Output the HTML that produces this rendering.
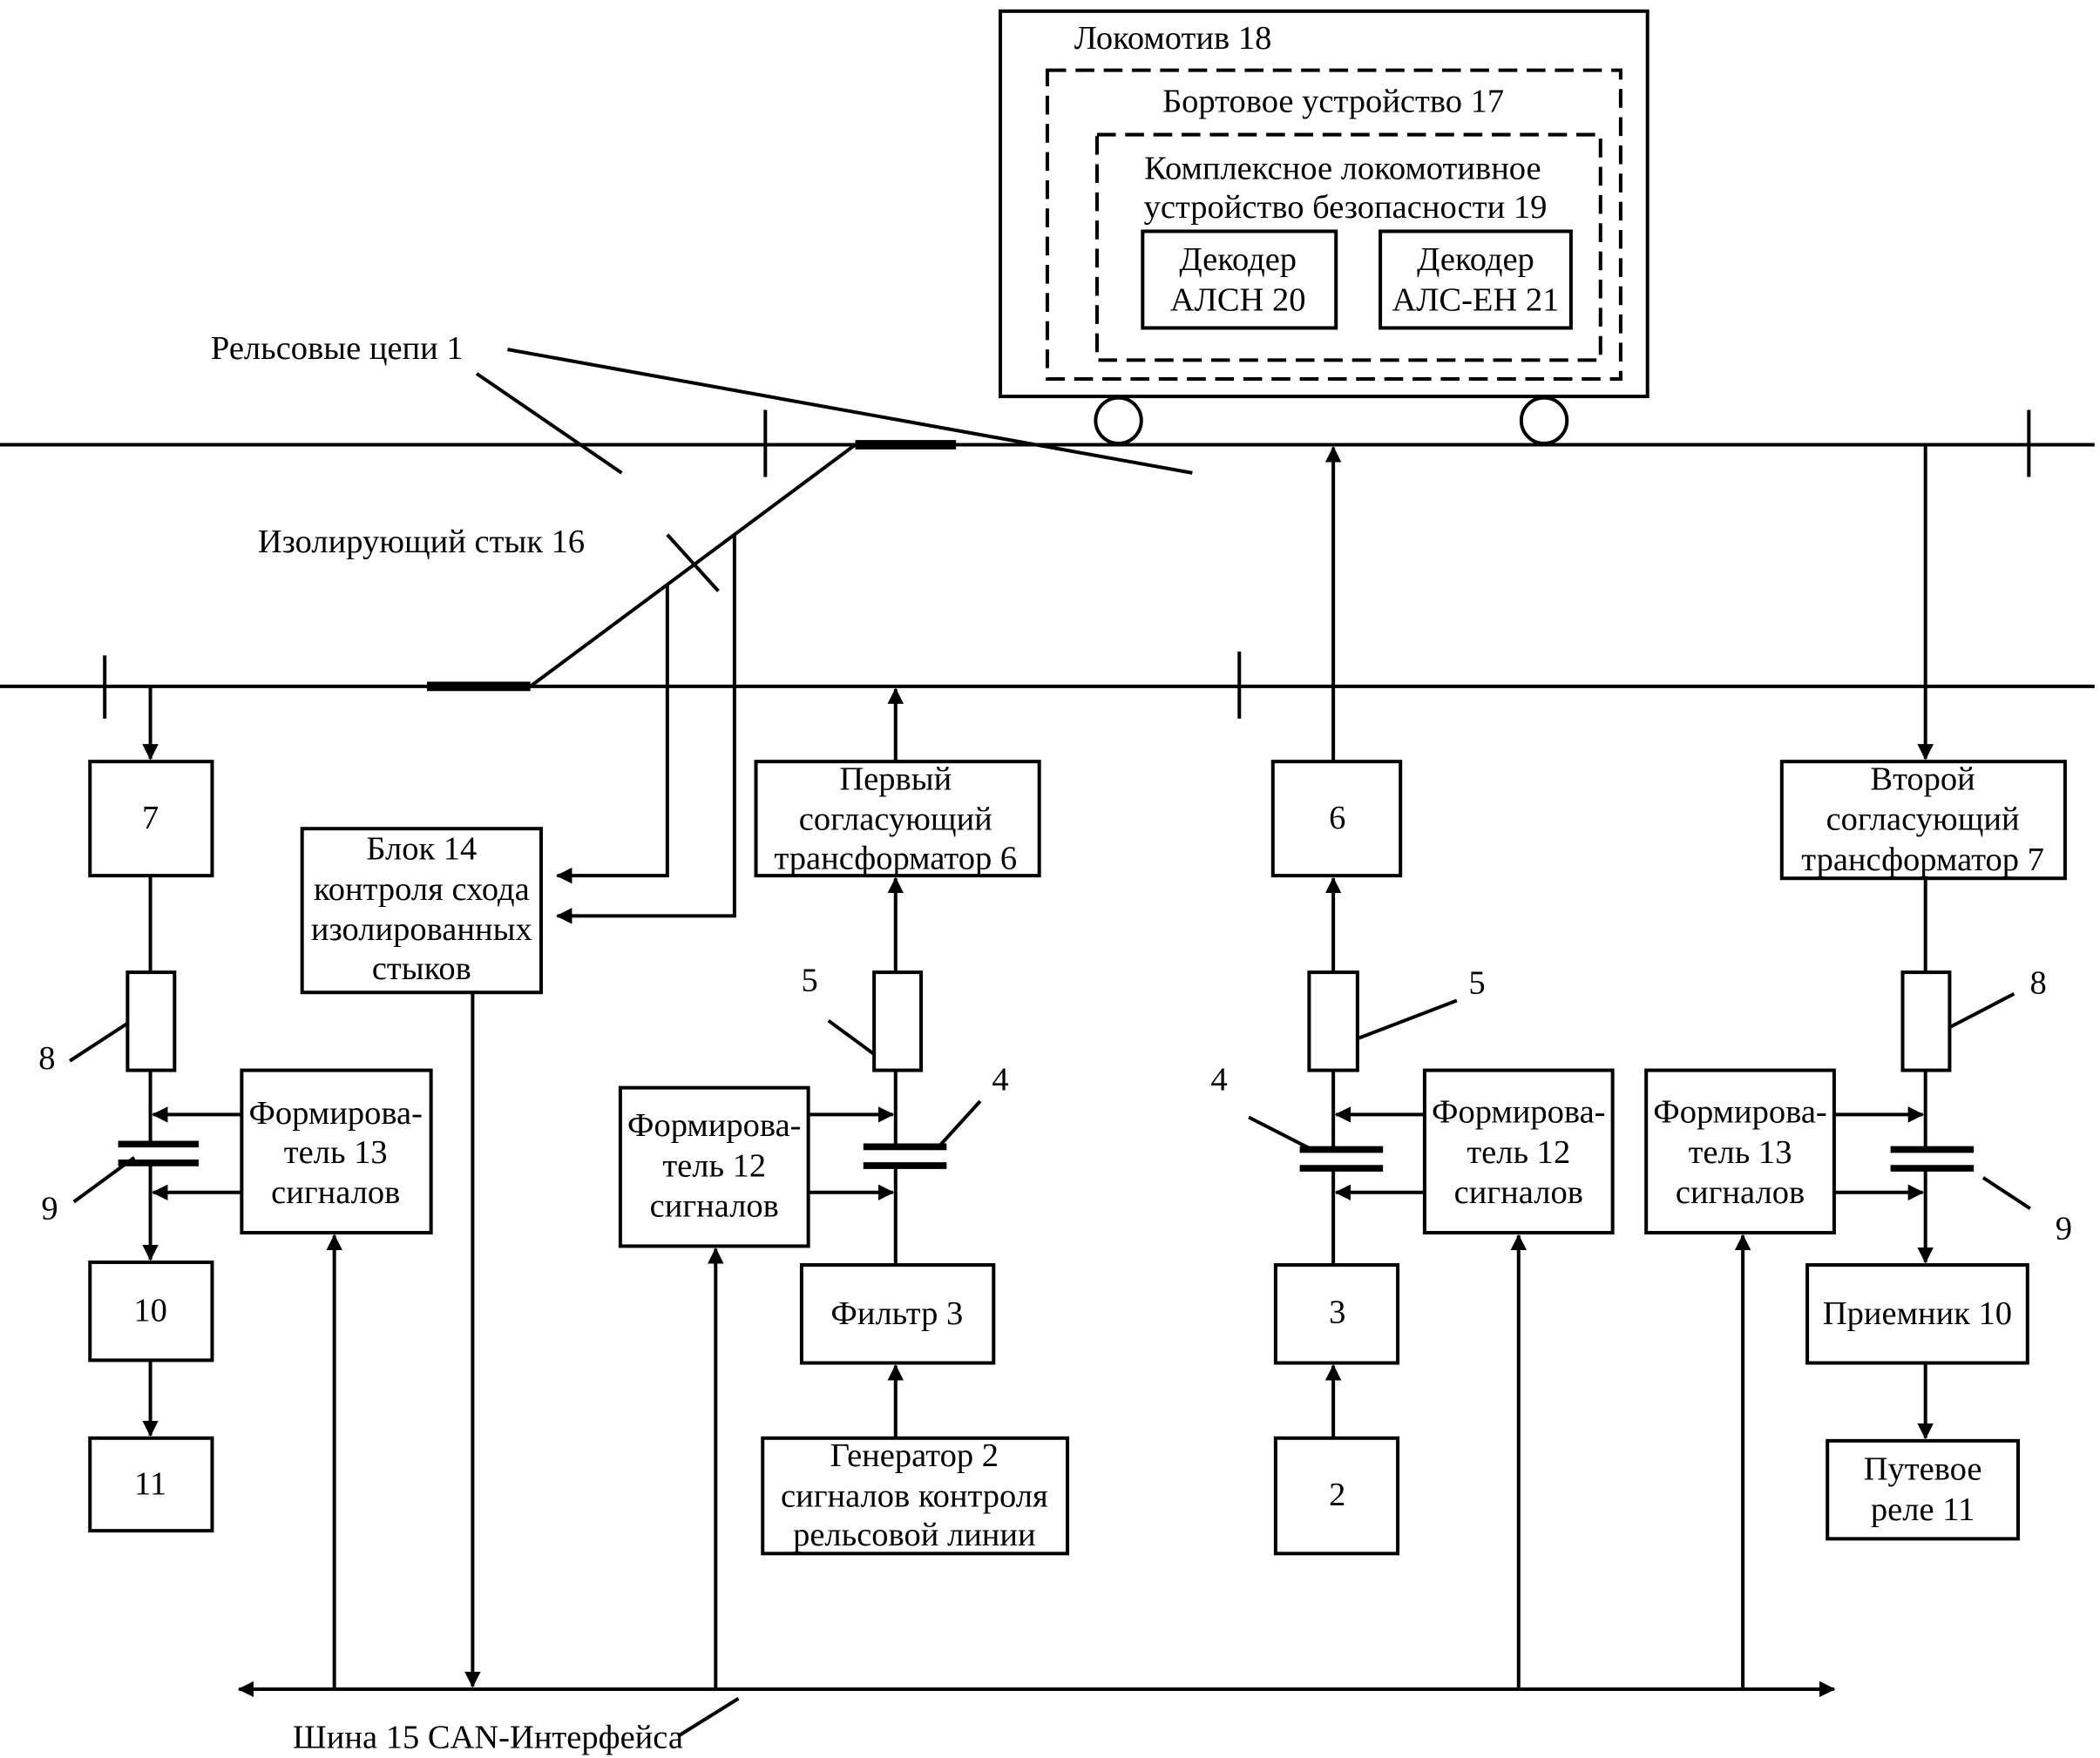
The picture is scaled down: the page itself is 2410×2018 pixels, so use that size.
<!DOCTYPE html>
<html><head><meta charset="utf-8"><style>
html,body{margin:0;padding:0;background:#fff}
svg{display:block}
text{font-family:"Liberation Serif","DejaVu Serif",serif;font-size:25px;fill:#000}
</style></head><body>
<svg width="2410" height="2018" viewBox="0 0 1564 1309" xmlns="http://www.w3.org/2000/svg">
<defs>
<marker id="a" markerWidth="12" markerHeight="12" refX="11" refY="6" orient="auto" markerUnits="userSpaceOnUse">
<path d="M0,0 L12,6 L0,12 z" fill="#000"/></marker>
</defs>
<g stroke="#000" stroke-width="2.6" fill="none">
<rect x="745" y="8" width="482" height="287"/>
<rect x="780" y="52" width="427" height="230" stroke-dasharray="14,7"/>
<rect x="817" y="100" width="375" height="168" stroke-dasharray="14,7"/>
<rect x="851" y="172" width="144" height="72"/>
<rect x="1028" y="172" width="142" height="72"/>
<circle cx="833" cy="313" r="17"/>
<circle cx="1150" cy="313" r="17"/>
<line x1="0" y1="331" x2="1560" y2="331"/>
<line x1="0" y1="511" x2="1560" y2="511"/>
<line x1="570" y1="305" x2="570" y2="355"/>
<line x1="1511" y1="305" x2="1511" y2="355"/>
<line x1="78" y1="488" x2="78" y2="535"/>
<line x1="923" y1="485" x2="923" y2="535"/>
<line x1="637" y1="331" x2="712" y2="331" stroke-width="7"/>
<line x1="318" y1="511" x2="395" y2="511" stroke-width="7"/>
<line x1="395" y1="511" x2="637" y2="331"/>
<line x1="378" y1="260" x2="888" y2="352"/>
<line x1="355" y1="278" x2="463" y2="352"/>
<line x1="497" y1="398" x2="535" y2="440"/>
<polyline points="497,435 497,652 415,652" marker-end="url(#a)"/>
<polyline points="547,398 547,682 415,682" marker-end="url(#a)"/>
<rect x="225" y="617" width="178" height="122"/>
<line x1="352" y1="739" x2="352" y2="1256" marker-end="url(#a)"/>
<line x1="112" y1="511" x2="112" y2="565" marker-end="url(#a)"/>
<rect x="67" y="567" width="91" height="85"/>
<line x1="112" y1="652" x2="112" y2="724"/>
<rect x="95" y="724" width="35" height="73"/>
<line x1="112" y1="797" x2="112" y2="852"/>
<line x1="112" y1="866" x2="112" y2="938" marker-end="url(#a)"/>
<line x1="88" y1="852" x2="148" y2="852" stroke-width="5"/>
<line x1="88" y1="866" x2="148" y2="866" stroke-width="5"/>
<line x1="180" y1="830" x2="114" y2="830" marker-end="url(#a)"/>
<line x1="180" y1="888" x2="114" y2="888" marker-end="url(#a)"/>
<line x1="52" y1="790" x2="95" y2="762"/>
<line x1="55" y1="895" x2="100" y2="862"/>
<rect x="180" y="797" width="141" height="121"/>
<rect x="67" y="940" width="91" height="73"/>
<line x1="112" y1="1013" x2="112" y2="1069" marker-end="url(#a)"/>
<rect x="67" y="1071" width="91" height="69"/>
<line x1="249" y1="1258" x2="249" y2="920" marker-end="url(#a)"/>
<line x1="667" y1="567" x2="667" y2="513" marker-end="url(#a)"/>
<rect x="563" y="567" width="211" height="85"/>
<line x1="667" y1="724" x2="667" y2="654" marker-end="url(#a)"/>
<rect x="651" y="724" width="35" height="73"/>
<line x1="667" y1="797" x2="667" y2="854"/>
<line x1="667" y1="868" x2="667" y2="942"/>
<line x1="643" y1="854" x2="705" y2="854" stroke-width="5"/>
<line x1="643" y1="868" x2="705" y2="868" stroke-width="5"/>
<line x1="700" y1="853" x2="730" y2="820"/>
<line x1="617" y1="760" x2="651" y2="785"/>
<rect x="462" y="810" width="140" height="118"/>
<line x1="602" y1="830" x2="665" y2="830" marker-end="url(#a)"/>
<line x1="602" y1="888" x2="665" y2="888" marker-end="url(#a)"/>
<rect x="597" y="942" width="143" height="73"/>
<line x1="667" y1="1071" x2="667" y2="1017" marker-end="url(#a)"/>
<rect x="568" y="1071" width="227" height="86"/>
<line x1="533" y1="1258" x2="533" y2="930" marker-end="url(#a)"/>
<line x1="993" y1="567" x2="993" y2="333" marker-end="url(#a)"/>
<rect x="948" y="567" width="95" height="85"/>
<line x1="993" y1="724" x2="993" y2="654" marker-end="url(#a)"/>
<rect x="975" y="724" width="36" height="73"/>
<line x1="993" y1="797" x2="993" y2="856"/>
<line x1="993" y1="870" x2="993" y2="942"/>
<line x1="968" y1="856" x2="1030" y2="856" stroke-width="5"/>
<line x1="968" y1="870" x2="1030" y2="870" stroke-width="5"/>
<line x1="1012" y1="773" x2="1085" y2="745"/>
<line x1="930" y1="832" x2="975" y2="855"/>
<rect x="1061" y="797" width="140" height="121"/>
<line x1="1061" y1="830" x2="995" y2="830" marker-end="url(#a)"/>
<line x1="1061" y1="888" x2="995" y2="888" marker-end="url(#a)"/>
<rect x="950" y="942" width="91" height="73"/>
<line x1="993" y1="1071" x2="993" y2="1017" marker-end="url(#a)"/>
<rect x="950" y="1071" width="91" height="86"/>
<line x1="1131" y1="1258" x2="1131" y2="920" marker-end="url(#a)"/>
<line x1="1434" y1="331" x2="1434" y2="565" marker-end="url(#a)"/>
<rect x="1327" y="567" width="211" height="87"/>
<line x1="1434" y1="654" x2="1434" y2="724"/>
<rect x="1417" y="724" width="35" height="73"/>
<line x1="1434" y1="797" x2="1434" y2="856"/>
<line x1="1434" y1="870" x2="1434" y2="940" marker-end="url(#a)"/>
<line x1="1408" y1="856" x2="1470" y2="856" stroke-width="5"/>
<line x1="1408" y1="870" x2="1470" y2="870" stroke-width="5"/>
<line x1="1452" y1="765" x2="1500" y2="740"/>
<line x1="1477" y1="877" x2="1512" y2="900"/>
<rect x="1226" y="797" width="140" height="121"/>
<line x1="1366" y1="830" x2="1432" y2="830" marker-end="url(#a)"/>
<line x1="1366" y1="888" x2="1432" y2="888" marker-end="url(#a)"/>
<rect x="1346" y="942" width="164" height="73"/>
<line x1="1434" y1="1015" x2="1434" y2="1071" marker-end="url(#a)"/>
<rect x="1361" y="1073" width="142" height="73"/>
<line x1="1298" y1="1258" x2="1298" y2="920" marker-end="url(#a)"/>
<line x1="200" y1="1258" x2="1366" y2="1258" marker-end="url(#a)"/>
<line x1="1300" y1="1258" x2="178" y2="1258" marker-end="url(#a)"/>
<line x1="505" y1="1293" x2="550" y2="1265"/>
</g>
<g>
<text x="800" y="36">Локомотив 18</text>
<text x="993" y="83" text-anchor="middle">Бортовое устройство 17</text>
<text x="1000" y="133" text-anchor="middle">Комплексное локомотивное</text>
<text x="1002" y="162" text-anchor="middle">устройство безопасности 19</text>
<text x="922" y="201" text-anchor="middle">Декодер</text>
<text x="922" y="231" text-anchor="middle">АЛСН 20</text>
<text x="1099" y="201" text-anchor="middle">Декодер</text>
<text x="1099" y="231" text-anchor="middle">АЛС-ЕН 21</text>
<text x="157" y="267">Рельсовые цепи 1</text>
<text x="192" y="411">Изолирующий стык 16</text>
<text x="314" y="640" text-anchor="middle">Блок 14</text>
<text x="314" y="670" text-anchor="middle">контроля схода</text>
<text x="314" y="700" text-anchor="middle">изолированных</text>
<text x="314" y="729" text-anchor="middle">стыков</text>
<text x="112" y="617" text-anchor="middle">7</text>
<text x="112" y="984" text-anchor="middle">10</text>
<text x="112" y="1113" text-anchor="middle">11</text>
<text x="35" y="796" text-anchor="middle">8</text>
<text x="37" y="908" text-anchor="middle">9</text>
<text x="250" y="837" text-anchor="middle">Формирова-</text>
<text x="250" y="866" text-anchor="middle">тель 13</text>
<text x="250" y="896" text-anchor="middle">сигналов</text>
<text x="667" y="588" text-anchor="middle">Первый</text>
<text x="667" y="618" text-anchor="middle">согласующий</text>
<text x="667" y="647" text-anchor="middle">трансформатор 6</text>
<text x="603" y="738" text-anchor="middle">5</text>
<text x="745" y="812" text-anchor="middle">4</text>
<text x="532" y="846" text-anchor="middle">Формирова-</text>
<text x="532" y="876" text-anchor="middle">тель 12</text>
<text x="532" y="906" text-anchor="middle">сигналов</text>
<text x="668" y="986" text-anchor="middle">Фильтр 3</text>
<text x="681" y="1092" text-anchor="middle">Генератор 2</text>
<text x="681" y="1122" text-anchor="middle">сигналов контроля</text>
<text x="681" y="1151" text-anchor="middle">рельсовой линии</text>
<text x="996" y="617" text-anchor="middle">6</text>
<text x="1100" y="740" text-anchor="middle">5</text>
<text x="908" y="812" text-anchor="middle">4</text>
<text x="1131" y="836" text-anchor="middle">Формирова-</text>
<text x="1131" y="866" text-anchor="middle">тель 12</text>
<text x="1131" y="896" text-anchor="middle">сигналов</text>
<text x="996" y="985" text-anchor="middle">3</text>
<text x="996" y="1121" text-anchor="middle">2</text>
<text x="1432" y="588" text-anchor="middle">Второй</text>
<text x="1432" y="618" text-anchor="middle">согласующий</text>
<text x="1432" y="648" text-anchor="middle">трансформатор 7</text>
<text x="1518" y="740" text-anchor="middle">8</text>
<text x="1537" y="923" text-anchor="middle">9</text>
<text x="1296" y="836" text-anchor="middle">Формирова-</text>
<text x="1296" y="866" text-anchor="middle">тель 13</text>
<text x="1296" y="896" text-anchor="middle">сигналов</text>
<text x="1428" y="986" text-anchor="middle">Приемник 10</text>
<text x="1432" y="1102" text-anchor="middle">Путевое</text>
<text x="1432" y="1132" text-anchor="middle">реле 11</text>
<text x="218" y="1302">Шина 15 CAN-Интерфейса</text>
</g>
</svg>
</body></html>
